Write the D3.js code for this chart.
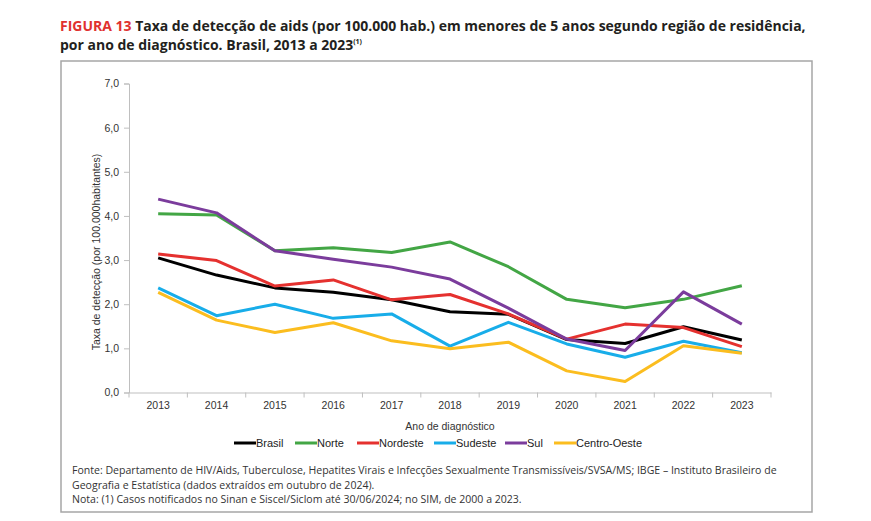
<!DOCTYPE html>
<html>
<head>
<meta charset="utf-8">
<script src="https://cdn.jsdelivr.net/npm/d3@7"></script>
<style>
  body { margin: 0; background: #fff; }
  svg text { font-family: "Open Sans", "Noto Sans", sans-serif; }
</style>
</head>
<body>
<div id="chart"></div>
<script>
// Data
var years = ["2013", "2014", "2015", "2016", "2017", "2018", "2019", "2020", "2021", "2022", "2023"];
var brasil = [3.05, 2.66, 2.37, 2.27, 2.10, 1.83, 1.77, 1.20, 1.11, 1.49, 1.19];
var norte = [4.05, 4.02, 3.21, 3.28, 3.17, 3.41, 2.85, 2.11, 1.92, 2.11, 2.42];
var nordeste = [3.14, 2.99, 2.41, 2.55, 2.10, 2.22, 1.78, 1.21, 1.55, 1.47, 1.04];
var sudeste = [2.37, 1.74, 2.00, 1.68, 1.78, 1.05, 1.59, 1.10, 0.80, 1.16, 0.90];
var sul = [4.38, 4.07, 3.21, 3.02, 2.84, 2.57, 1.91, 1.21, 0.95, 2.28, 1.55];
var centroOeste = [2.27, 1.64, 1.36, 1.58, 1.17, 0.99, 1.14, 0.49, 0.25, 1.06, 0.89];
var yTicks = [0, 1, 2, 3, 4, 5, 6, 7];

var series = [
  { name: "Brasil", values: brasil, color: "#000000" },
  { name: "Norte", values: norte, color: "#43a645" },
  { name: "Nordeste", values: nordeste, color: "#e5312f" },
  { name: "Sudeste", values: sudeste, color: "#18ade9" },
  { name: "Sul", values: sul, color: "#7b3c9c" },
  { name: "Centro-Oeste", values: centroOeste, color: "#fbbd1f" }
];

var svgWidth = 871, svgHeight = 521;
var svg = d3.select("#chart").append("svg")
  .attr("width", svgWidth)
  .attr("height", svgHeight);

// fit a text element to a given width by changing its font size
function fitText(sel, target) {
  var fs = parseFloat(sel.attr("font-size"));
  var w = sel.node().getComputedTextLength();
  sel.attr("font-size", fs * target / w);
  return fs * target / w;
}

// Title
var t1 = svg.append("text")
  .attr("x", 60).attr("y", 31)
  .attr("font-size", 15).attr("font-weight", "bold")
  .attr("fill", "#231f20");
t1.append("tspan").attr("fill", "#e0312f").text("FIGURA 13 ");
t1.append("tspan").text(" Taxa de detecção de aids (por 100.000 hab.) em menores de 5 anos segundo região de residência,");
fitText(t1, 746);
var t2 = svg.append("text")
  .attr("x", 60).attr("y", 50)
  .attr("font-size", t1.attr("font-size")).attr("font-weight", "bold")
  .attr("fill", "#231f20");
t2.append("tspan").text("por ano de diagnóstico. Brasil, 2013 a 2023");
t2.append("tspan").attr("font-size", 7).attr("dy", -6).text("(1)");

// Frame
svg.append("rect")
  .attr("x", 61).attr("y", 61)
  .attr("width", 751).attr("height", 451)
  .attr("fill", "none")
  .attr("stroke", "#a6a6a6")
  .attr("stroke-width", 1.5);

// Chart area
var margin = { top: 83.5, left: 129 };
var chartWidth = 642, chartHeight = 309;
var g = svg.append("g").attr("transform", `translate(${margin.left}, ${margin.top})`);

var xBand = d3.scaleBand().domain(years).range([0, chartWidth]);
var yScale = d3.scaleLinear().domain([0, 7]).range([chartHeight, 0]);

// Y axis
var yAxis = g.append("g")
  .call(d3.axisLeft(yScale).tickValues(yTicks).tickSize(5).tickPadding(5)
    .tickFormat(d => d3.format(".1f")(d).replace(".", ",")));
yAxis.select(".domain").attr("stroke", "#bfbfbf");
yAxis.selectAll(".tick line").attr("stroke", "#bfbfbf");
yAxis.selectAll("text").attr("font-size", 10.5).attr("fill", "#333")
  .style("font-family", "'Liberation Sans', Arial, sans-serif");

// X axis (ticks at category boundaries)
var xAxis = g.append("g")
  .attr("transform", `translate(0, ${chartHeight})`)
  .call(d3.axisBottom(xBand).tickSize(0).tickPadding(9));
xAxis.select(".domain").attr("stroke", "#bfbfbf");
xAxis.selectAll("text").attr("font-size", 10.5).attr("fill", "#333")
  .style("font-family", "'Liberation Sans', Arial, sans-serif");
var bounds = years.map(d => xBand(d)).concat([chartWidth]);
xAxis.selectAll(".bound").data(bounds).enter().append("line")
  .attr("x1", d => d).attr("x2", d => d)
  .attr("y1", 0).attr("y2", 5)
  .attr("stroke", "#bfbfbf");

// Lines
var line = d3.line()
  .x((d, i) => xBand(years[i]) + xBand.bandwidth() / 2)
  .y(d => yScale(d));

g.append("g").selectAll("path")
  .data(series)
  .enter()
  .append("path")
  .attr("d", d => line(d.values))
  .attr("fill", "none")
  .attr("stroke", d => d.color)
  .attr("stroke-width", 3)
  .attr("stroke-linejoin", "round");

// Axis titles
svg.append("text")
  .attr("transform", "translate(100, 252) rotate(-90)")
  .attr("text-anchor", "middle")
  .attr("font-size", 10.5).attr("fill", "#333")
  .style("font-family", "'Liberation Sans', Arial, sans-serif")
  .text("Taxa de detecção (por 100.000habitantes)");

svg.append("text")
  .attr("x", 450).attr("y", 430)
  .attr("text-anchor", "middle")
  .attr("font-size", 10.5).attr("fill", "#333")
  .style("font-family", "'Liberation Sans', Arial, sans-serif")
  .text("Ano de diagnóstico");

// Legend
var legendX = [234, 295, 357, 434, 505, 554];
var legend = svg.append("g").selectAll("g")
  .data(series)
  .enter()
  .append("g")
  .attr("transform", (d, i) => `translate(${legendX[i]}, 443)`);
legend.append("line")
  .attr("x1", 0).attr("x2", 22)
  .attr("stroke", d => d.color)
  .attr("stroke-width", 3);
legend.append("text")
  .attr("x", 22).attr("y", 4)
  .attr("font-size", 11).attr("fill", "#222")
  .style("font-family", "'Liberation Sans', Arial, sans-serif")
  .text(d => d.name);

// Footnotes
var notes = [
  "Fonte: Departamento de HIV/Aids, Tuberculose, Hepatites Virais e Infecções Sexualmente Transmissíveis/SVSA/MS; IBGE – Instituto Brasileiro de",
  "Geografia e Estatística (dados extraídos em outubro de 2024).",
  "Nota: (1) Casos notificados no Sinan e Siscel/Siclom até 30/06/2024; no SIM, de 2000 a 2023."
];
var noteText = svg.append("g").selectAll("text")
  .data(notes)
  .enter()
  .append("text")
  .attr("x", 72)
  .attr("y", (d, i) => 474 + i * 14.5)
  .attr("font-size", 10).attr("fill", "#333")
  .text(d => d);
var noteSize = fitText(d3.select(noteText.nodes()[0]), 706);
noteText.attr("font-size", noteSize);
</script>
</body>
</html>
